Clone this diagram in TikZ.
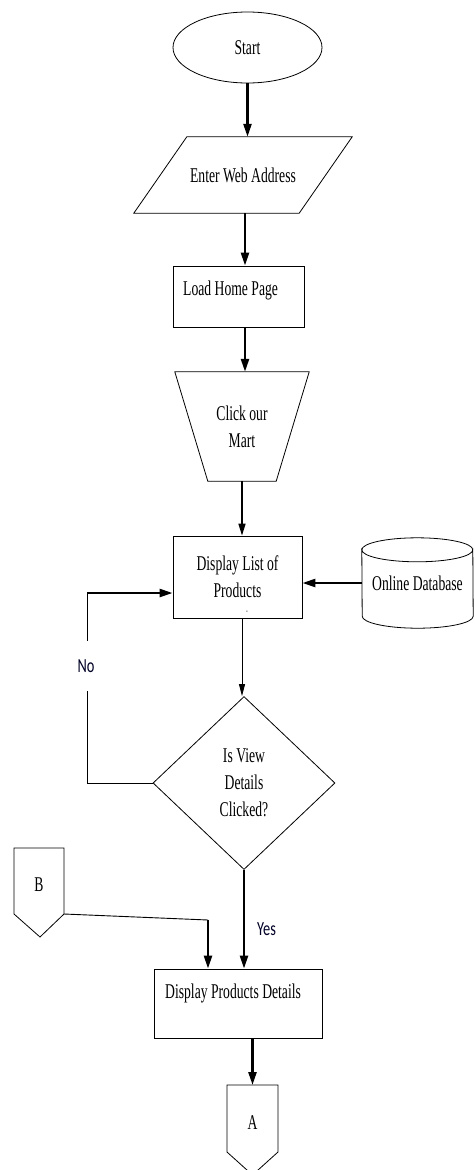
\documentclass[tikz,border=0pt]{standalone}
\usepackage{fontspec}
\setmainfont[FakeStretch=0.65]{Liberation Serif}
\newfontfamily\labelfont[FakeStretch=0.72]{Carlito}
\usetikzlibrary{shapes.geometric,arrows.meta,calc}

\begin{document}
\begin{tikzpicture}[x=1pt,y=1pt,
  outline/.style={draw=black, line width=0.8pt},
  txt/.style={font=\fontsize{21}{27}\selectfont, align=center, inner sep=0pt},
  labeltxt/.style={font=\labelfont\fontsize{20}{22}\selectfont, text=black!85!blue, inner sep=0pt},
  flow/.style={line width=2.4pt, -{Triangle[length=13pt,width=8pt]}},
  flowmid/.style={line width=1.6pt, -{Triangle[length=12pt,width=7pt]}},
  thinflow/.style={line width=0.9pt, -{Triangle[length=12pt,width=6pt]}},
  thinline/.style={line width=0.9pt}
]
\useasboundingbox (0,0) rectangle (474,-1170);

% main column of the flow
\node[outline, ellipse, minimum width=149, minimum height=71, txt] (start) at (247.5,-47.5) {Start};

% input parallelogram
\node[minimum width=218, minimum height=76, txt] (web) at (243,-175) {Enter Web Address};
\draw[outline] (web.south west) -- ([xshift=53]web.north west) -- (web.north east)
  -- ([xshift=-53]web.south east) -- cycle;

\node[outline, minimum width=131, minimum height=61] (home) at (238.5,-296.5) {};
\node[txt, anchor=west] (home-t) at (183,-290) {Load Home Page};

% manual operation trapezoid
\node[minimum width=134, minimum height=109, txt] (mart) at (242,-426.5) {Click our\\Mart};
\draw[outline] (mart.north west) -- (mart.north east) -- ([xshift=-33]mart.south east)
  -- ([xshift=33]mart.south west) -- cycle;

\node[outline, minimum width=129, minimum height=82, txt] (list) at (237.5,-577) {Display List of\\Products};
\node[txt, font=\fontsize{8}{8}\selectfont] (tick) at (247,-612) {-};

% database store
\node[minimum width=111, minimum height=90, txt] (db) at (417.5,-583) {Online Database};
\draw[outline] ([yshift=-12]db.north west)
  arc[start angle=180, end angle=360, x radius=55.5, y radius=12]
  -- ([yshift=12]db.south east)
  arc[start angle=0, end angle=-180, x radius=55.5, y radius=12] -- cycle;
\draw[outline] ([yshift=-12]db.north west)
  arc[start angle=180, end angle=0, x radius=55.5, y radius=12];

\node[outline, diamond, minimum width=182, minimum height=173, txt] (dec) at (244,-783) {Is View\\Details\\Clicked?};

\node[outline, minimum width=168, minimum height=69] (det) at (238,-1003.5) {};
\node[txt, anchor=west] (det-t) at (165,-993) {Display Products Details};

% off-page connectors
\node[txt] (B) at (39,-885) {B};
\draw[outline] ($(B)+(-25,37)$) -- ($(B)+(25,37)$) -- ($(B)+(25,-29)$)
  -- ($(B)+(1,-52)$) -- ($(B)+(-25,-29)$) -- cycle;
\coordinate (B-out) at ($(B)+(25,-29)$);

\node[txt] (A) at (252.5,-1123) {A};
\draw[outline] ($(A)+(-25.5,38)$) -- ($(A)+(25.5,38)$) -- ($(A)+(25.5,-29)$)
  -- ($(A)+(0,-52)$) -- ($(A)+(-25.5,-29)$) -- cycle;
\coordinate (A-in) at ($(A)+(0,38)$);

% connectors
\draw[flow] (start.south) -- (start.south |- web.north);
\draw[flow] ([xshift=2]web.south) -- ([xshift=2]web.south |- home.north);
\draw[flow] ([xshift=6.5]home.south) -- ([xshift=6.5]home.south |- mart.north);
\draw[flowmid] (mart.south) -- (mart.south |- list.north);
\draw[flow] (db.west) -- (db.west -| list.east);
\draw[thinflow] ([xshift=-2]dec.north |- list.south) -- ([xshift=-2]dec.north);

% "No" loop back to the product list
\coordinate (no-up) at (87,-593);
\draw[thinline] (dec.west) -| (no-up);
\node[labeltxt, fill=white, minimum height=50, minimum width=20] (no) at (86,-666) {No};
\draw[flow] (no-up) -- (no-up -| list.west);

% "Yes" branch
\draw[flow] (dec.south) -- (dec.south |- det.north);
\node[labeltxt, anchor=west] (yes) at (257,-929) {Yes};

% connector B joins the details box
\coordinate (b-turn) at (208,-920);
\draw[thinline] (B-out) -- (b-turn);
\draw[flow] (b-turn) -- (b-turn |- det.north);

\draw[flow] (A-in |- det.south) -- (A-in);
\end{tikzpicture}
\end{document}
